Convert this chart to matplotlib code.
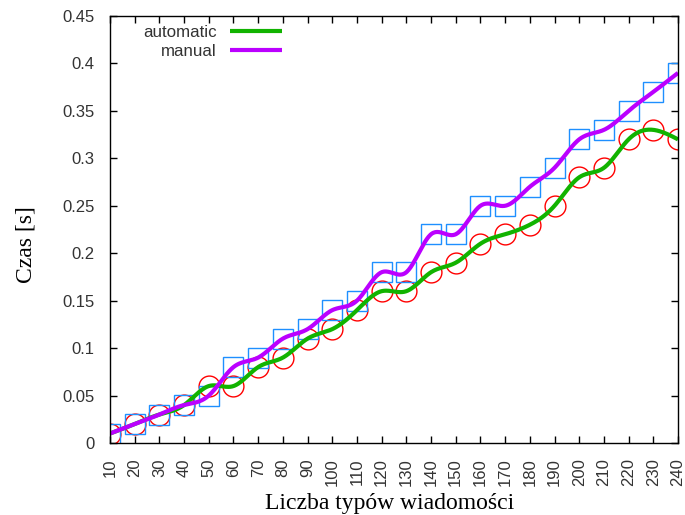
import numpy as np
import matplotlib
matplotlib.use('Agg')
import matplotlib.pyplot as plt

# data
x_vals = [10, 20, 30, 40, 50, 60, 70, 80, 90, 100, 110, 120,
          130, 140, 150, 160, 170, 180, 190, 200, 210, 220, 230, 240]
automatic = [0.01, 0.02, 0.03, 0.04, 0.06, 0.06, 0.08, 0.09, 0.11, 0.12, 0.14, 0.16,
             0.16, 0.18, 0.19, 0.21, 0.22, 0.23, 0.25, 0.28, 0.29, 0.32, 0.33, 0.32]
manual = [0.01, 0.02, 0.03, 0.04, 0.05, 0.08, 0.09, 0.11, 0.12, 0.14, 0.15, 0.18,
          0.18, 0.22, 0.22, 0.25, 0.25, 0.27, 0.29, 0.32, 0.33, 0.35, 0.37, 0.39]
y_ticks = [0, 0.05, 0.1, 0.15, 0.2, 0.25, 0.3, 0.35, 0.4, 0.45]

GREEN = "#11b300"
PURPLE = "#bb00ff"
RED = "#ff0000"
BLUE = "#1e8fff"


def natural_spline(x, y, n=600):
    """Natural cubic spline, like gnuplot's 'smooth csplines'."""
    x = np.asarray(x, float)
    y = np.asarray(y, float)
    k = len(x)
    h = np.diff(x)
    A = np.zeros((k, k))
    r = np.zeros(k)
    A[0, 0] = A[-1, -1] = 1.0
    for i in range(1, k - 1):
        A[i, i - 1] = h[i - 1]
        A[i, i] = 2 * (h[i - 1] + h[i])
        A[i, i + 1] = h[i]
        r[i] = 6 * ((y[i + 1] - y[i]) / h[i] - (y[i] - y[i - 1]) / h[i - 1])
    m = np.linalg.solve(A, r)
    xs = np.linspace(x[0], x[-1], n)
    idx = np.clip(np.searchsorted(x, xs) - 1, 0, k - 2)
    x0, x1 = x[idx], x[idx + 1]
    hh = x1 - x0
    t0, t1 = x1 - xs, xs - x0
    ys = (m[idx] * t0 ** 3 + m[idx + 1] * t1 ** 3) / (6 * hh) \
        + (y[idx] / hh - m[idx] * hh / 6) * t0 \
        + (y[idx + 1] / hh - m[idx + 1] * hh / 6) * t1
    return xs, ys


fig = plt.figure(figsize=(6.85, 5.15), dpi=100)
ax = fig.add_axes([110 / 685, 72 / 515, 568 / 685, 427 / 515])

ax.plot(x_vals, automatic, linestyle='none', marker='o', markersize=15,
        markerfacecolor='none', markeredgecolor=RED, markeredgewidth=1.0)
ax.plot(x_vals, manual, linestyle='none', marker='s', markersize=15,
        markerfacecolor='none', markeredgecolor=BLUE, markeredgewidth=1.0)

xs, ys = natural_spline(x_vals, automatic)
ax.plot(xs, ys, color=GREEN, lw=3, label="automatic", solid_capstyle='butt')
xs, ys = natural_spline(x_vals, manual)
ax.plot(xs, ys, color=PURPLE, lw=3, label="manual", solid_capstyle='butt')

ax.set_xlim(10, 240)
ax.set_ylim(0, 0.45)
ax.set_xticks(x_vals)
ax.set_xticklabels([str(v) for v in x_vals], rotation=90)
ax.set_yticks(y_ticks)
ax.set_yticklabels(["0" if v == 0 else f"{v:g}" for v in y_ticks])
ax.tick_params(direction='in', length=5, width=1, top=True, right=True,
               labelsize=12, labelcolor='#333333', pad=11)
for lab in ax.get_xticklabels() + ax.get_yticklabels():
    lab.set_family('Liberation Sans')
for spine in ax.spines.values():
    spine.set_linewidth(1)

ax.set_xlabel("Liczba typów wiadomości", family='Liberation Serif', fontsize=17)
ax.set_ylabel("Czas [s]", family='Liberation Serif', fontsize=17)
ax.xaxis.set_label_coords(0.493, -0.118)
ax.yaxis.set_label_coords(-0.13, 0.465)

leg = ax.legend(loc='upper right', frameon=False, markerfirst=False,
                bbox_to_anchor=((282 - 110) / 568, 0.979), borderpad=0,
                borderaxespad=0, handlelength=3.07, handletextpad=0.77,
                labelspacing=0.25, prop={'family': 'Liberation Sans', 'size': 12.2})
for t in leg.get_texts():
    t.set_ha('right')
    t.set_color('#333333')

fig.savefig("out.png", dpi=100)
